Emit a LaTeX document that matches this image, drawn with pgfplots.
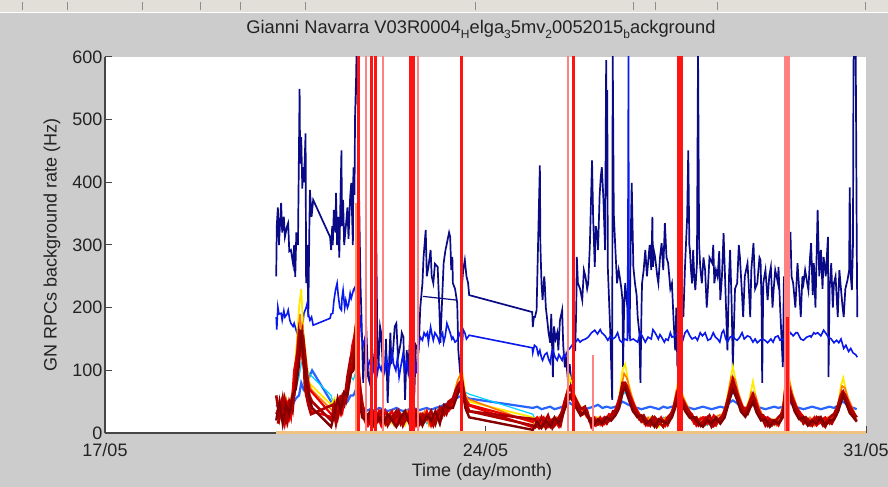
\documentclass[border=0pt]{standalone}
\usepackage{fontspec}
\setmainfont{Liberation Sans}
\usepackage{pgfplots}
\usepackage{pgfplotstable}
\pgfplotsset{compat=1.18}

\definecolor{figgray}{RGB}{204,204,204}
\definecolor{barbeige}{RGB}{226,223,216}
\definecolor{axgray}{RGB}{70,70,70}
\definecolor{txt}{RGB}{35,35,35}
\definecolor{navyline}{RGB}{10,10,135}
\definecolor{blueline}{RGB}{10,25,235}
\definecolor{jetlb}{RGB}{40,100,255}
\definecolor{jetcy}{RGB}{0,210,255}
\definecolor{jetye}{RGB}{255,235,0}
\definecolor{jetor}{RGB}{255,120,0}
\definecolor{jetrd}{RGB}{235,0,0}
\definecolor{jetdr}{RGB}{175,0,0}
\definecolor{jetdd}{RGB}{130,0,0}
\definecolor{spike}{RGB}{255,20,20}
\definecolor{spikelt}{RGB}{255,130,130}
\definecolor{spikeor}{RGB}{255,150,100}
\definecolor{zeroline}{RGB}{240,195,130}

\newcommand{\sub}[1]{\raisebox{-0.5ex}{\fontsize{12bp}{12bp}\selectfont #1}}
\newcommand{\lblfont}{\fontsize{18bp}{21bp}\selectfont}

% low-rate chambers: time (day of May) and rate (Hz)
\pgfplotstableread{
x lb cy ye rd dra drb
20.15 45 55 50 30 60 20
20.21 40 35 40 45 25 50
20.27 38 50 30 20 55 15
20.33 42 30 55 50 20 45
20.39 40 45 35 25 50 30
20.45 45 40 60 55 35 60
20.51 55 70 120 80 90 70
20.57 60 90 200 120 160 110
20.61 80 110 230 150 140 165
20.65 70 120 160 130 150 120
20.71 80 100 110 90 100 80
20.76 90 95 80 70 60 55
20.81 100 90 75 65 50 40
21.16 50 60 45 30 20 10
21.22 45 40 55 25 45 30
21.28 40 50 35 45 25 55
21.34 42 45 50 30 55 35
21.40 45 55 60 50 45 65
21.46 50 70 80 75 90 60
21.52 60 90 110 100 120 95
21.57 60 85 120 110 130 100
21.62 70 100 160 150 175 130
21.67 55 60 80 70 90 60
21.73 40 30 40 30 45 25
21.80 35 20 25 15 30 20
21.88 38 25 15 30 15 35
21.96 35 15 30 20 35 10
22.04 40 25 20 35 20 25
22.12 38 30 10 15 30 15
22.20 35 15 25 25 12 30
22.28 37 20 15 35 25 20
22.36 40 28 30 12 35 10
22.44 36 18 20 30 15 25
22.52 35 25 12 20 30 35
22.60 38 15 28 35 20 15
22.68 40 30 20 15 35 25
22.76 36 20 35 30 10 30
22.84 38 28 15 20 30 12
22.92 40 15 30 35 22 28
23.00 37 25 20 12 35 20
23.08 40 30 28 30 15 35
23.16 42 20 35 25 40 15
23.24 45 35 30 40 30 45
23.32 48 40 45 35 50 40
23.40 50 45 50 45 55 40
23.46 55 60 75 60 70 55
23.52 58 65 90 75 80 70
23.57 60 70 100 80 85 75
23.63 58 65 60 55 50 40
23.70 55 62 50 45 35 25
24.87 40 30 25 18 12 5
24.95 42 15 20 25 10 18
25.03 38 22 12 15 25 8
25.11 40 10 18 22 8 20
25.19 42 20 10 12 20 10
25.27 38 15 22 20 12 25
25.35 40 25 15 10 25 15
25.42 42 30 30 28 35 30
25.49 45 45 60 50 60 45
25.55 48 55 90 60 72 58
25.60 45 52 75 58 65 52
25.67 42 40 50 45 52 40
25.75 40 30 35 28 38 28
25.83 38 35 42 32 42 35
25.91 40 18 22 25 20 22
25.99 42 20 14 15 25 12
26.07 45 12 25 20 14 22
26.15 40 22 15 12 22 15
26.23 42 18 20 25 15 25
26.31 40 25 30 20 28 20
26.39 42 30 35 30 35 28
26.46 45 40 55 45 50 40
26.52 50 60 100 70 80 65
26.57 48 65 110 78 80 72
26.63 45 55 80 60 65 55
26.71 42 40 52 42 45 35
26.79 40 28 35 25 32 26
26.87 38 18 22 25 18 28
26.95 40 22 15 12 22 15
27.03 42 12 25 20 12 20
27.11 40 20 18 25 25 10
27.19 38 15 10 15 18 22
27.27 42 25 22 20 10 18
27.35 40 18 15 12 25 15
27.43 42 25 30 28 32 25
27.49 45 40 55 45 50 40
27.54 50 55 82 60 66 56
27.60 45 48 68 52 58 48
27.68 42 38 48 40 44 34
27.76 40 28 32 28 32 24
27.84 38 20 20 15 22 25
27.92 40 15 22 20 12 15
28.00 42 22 12 25 18 10
28.08 40 12 20 15 25 20
28.16 38 20 15 20 10 15
28.24 40 25 22 12 20 25
28.32 42 22 20 25 18 15
28.40 40 30 35 30 35 25
28.48 48 50 72 55 62 50
28.55 52 65 106 75 86 70
28.62 48 55 76 60 65 55
28.70 42 40 45 38 44 34
28.78 40 32 36 30 32 26
28.86 42 40 56 45 50 40
28.92 45 50 82 55 62 50
28.99 42 38 48 38 42 32
29.07 40 24 28 22 28 20
29.15 38 15 18 25 12 22
29.23 40 20 12 15 22 10
29.31 42 12 22 20 15 20
29.39 40 25 18 12 25 15
29.47 42 30 35 28 32 25
29.51 48 50 78 55 66 50
29.55 52 65 108 75 86 70
29.61 48 55 76 60 65 55
29.69 42 40 45 38 44 34
29.77 40 28 30 24 30 22
29.85 38 18 20 25 15 25
29.93 40 22 12 15 22 12
30.01 42 12 20 22 12 20
30.09 40 20 15 12 25 15
30.17 38 15 25 20 18 25
30.25 40 25 18 25 10 12
30.33 42 20 22 15 25 20
30.41 40 28 30 25 30 22
30.49 44 35 45 40 45 35
30.54 48 50 76 55 60 50
30.58 50 60 88 65 66 60
30.64 46 48 64 52 56 46
30.70 42 38 44 38 42 32
30.77 40 28 30 25 32 25
30.83 38 20 25 20 25 18
}\band

\pgfplotstableread{
x or drc drd
20.18 40 30 15
20.24 25 50 35
20.30 50 15 55
20.36 30 45 20
20.42 55 25 50
20.48 80 100 60
20.54 150 130 120
20.59 190 150 140
20.63 140 120 160
20.68 100 90 70
20.74 85 55 45
20.79 70 35 30
21.19 35 25 45
21.25 50 40 15
21.31 30 55 40
21.37 55 35 60
21.43 65 70 50
21.49 85 100 80
21.55 120 140 110
21.60 170 160 140
21.65 110 120 100
21.70 60 70 50
21.76 30 35 25
21.84 20 12 30
21.92 35 25 10
22.00 15 30 25
22.08 28 12 35
22.16 20 35 15
22.24 32 18 28
22.32 12 30 20
22.40 30 15 35
22.48 18 28 12
22.56 35 20 28
22.64 15 32 18
22.72 28 12 35
22.80 20 30 15
22.88 35 18 25
22.96 12 28 30
23.04 30 20 12
23.12 22 35 28
23.20 35 25 40
23.28 40 45 30
23.36 45 40 50
23.43 65 60 50
23.49 85 75 65
23.55 95 80 70
23.60 70 65 55
23.66 55 45 35
24.91 15 8 22
24.99 25 18 8
25.07 10 25 15
25.15 22 10 28
25.23 12 22 8
25.31 25 15 20
25.38 18 28 12
25.45 45 50 40
25.52 75 70 60
25.58 72 75 62
25.63 62 58 52
25.71 48 42 38
25.79 36 38 30
25.87 30 25 35
25.95 15 22 10
26.03 25 12 20
26.11 12 25 15
26.19 22 15 25
26.27 28 30 20
26.35 32 28 35
26.42 40 45 35
26.49 70 65 55
26.55 95 80 75
26.60 88 76 66
26.67 64 58 48
26.75 44 42 34
26.83 28 30 22
26.91 15 22 28
26.99 25 12 15
27.07 12 22 25
27.15 22 15 10
27.23 15 25 20
27.31 25 12 18
27.39 20 28 25
27.46 45 40 35
27.52 70 65 55
27.57 70 60 55
27.64 56 50 42
27.72 42 36 32
27.80 28 30 22
27.88 18 12 25
27.96 25 22 12
28.04 12 25 20
28.12 22 15 28
28.20 15 28 12
28.28 28 20 22
28.36 30 28 25
28.44 50 45 40
28.52 90 75 65
28.59 86 75 65
28.66 62 56 46
28.74 42 40 32
28.82 36 40 30
28.89 65 55 45
28.96 62 55 45
29.03 42 36 30
29.11 25 20 28
29.19 15 25 12
29.27 22 12 20
29.35 12 22 15
29.43 25 28 20
29.49 55 45 40
29.53 90 75 65
29.58 86 75 65
29.65 62 56 46
29.73 42 40 32
29.81 26 30 20
29.89 15 22 25
29.97 25 12 15
30.05 12 25 20
30.13 22 15 25
30.21 15 22 12
30.29 25 18 20
30.37 22 28 15
30.45 35 32 28
30.52 60 55 45
30.56 75 65 55
30.61 72 62 56
30.67 56 50 42
30.74 42 38 32
30.80 30 28 22
}\bandb

\begin{document}
\begin{tikzpicture}
% figure window
\fill[figgray] (-105bp,-54bp) rectangle (783bp,433bp);
\fill[barbeige] (-105bp,421bp) rectangle (783bp,433bp);
\draw[white, line width=1.2bp] (-105bp,420.4bp) -- (783bp,420.4bp);
\foreach \sx in {22,67,142,200,240,305,475,633,655,717,865}
  \draw[black!45, line width=0.8bp] (\sx bp-105bp,423bp) -- (\sx bp-105bp,431bp);

\begin{axis}[
  at={(0,0)}, anchor=south west,
  scale only axis, width=761bp, height=376bp,
  xmin=17, xmax=31, ymin=0, ymax=600,
  xtick={17,24,31}, xticklabels={17/05,24/05,31/05},
  ytick={0,100,...,600},
  axis x line*=bottom, axis y line*=left,
  axis line style={-, draw=axgray, line width=1.3bp},
  tick align=inside, major tick length=7bp,
  every tick/.style={draw=axgray, line width=1bp},
  axis background/.style={fill=white},
  /pgf/number format/assume math mode=true,
  ticklabel style={font=\lblfont, text=txt},
  yticklabel style={xshift=1bp},
  xticklabel style={yshift=-7bp},
  title={Gianni Navarra V03R0004\sub{H}elga\sub{3}5mv\sub{2}0052015\sub{b}ackground},
  every axis title/.style={at={(axis description cs:0.494,1)}, anchor=base, yshift=23bp, font=\fontsize{18.3bp}{21bp}\selectfont, text=txt},
  xlabel={Time (day/month)},
  every axis x label/.style={at={(axis description cs:0.4954,-0.1037)}, anchor=center, font=\lblfont, text=txt},
  ylabel={GN RPCs background rate (Hz)},
  every axis y label/.style={at={(axis description cs:-0.0696,0.5)}, rotate=90, anchor=center, font=\lblfont, text=txt},
]

% high-rate chamber
\addplot[navyline, line width=1.7bp] coordinates {
(20.15,250) (20.16,330) (20.18,360) (20.20,300) (20.24,367) (20.26,320) (20.29,345) (20.31,313)
(20.35,330) (20.37,335) (20.39,290) (20.42,292) (20.46,270) (20.48,300) (20.50,249) (20.52,320)
(20.55,300) (20.58,549) (20.59,430) (20.61,472) (20.63,390) (20.64,424) (20.66,400) (20.69,478)
(20.70,239) (20.72,300) (20.74,185) (20.76,330) (20.77,388) (20.80,345) (20.83,372)
(21.14,313) (21.16,292) (21.18,330) (21.19,300) (21.21,356) (21.24,320) (21.25,383) (21.27,300)
(21.29,345) (21.31,280) (21.35,451) (21.36,330) (21.38,372) (21.40,300) (21.43,329) (21.46,360)
(21.48,310) (21.51,376) (21.53,399) (21.56,300) (21.57,424) (21.59,380) (21.60,504) (21.62,568)
(21.63,620) (21.64,600) (21.67,400) (21.70,239) (21.72,180) (21.75,80) (21.78,150) (21.81,160)
(21.84,90) (21.87,80) (21.91,140) (21.94,100) (21.97,132) (21.98,388) (22.01,150) (22.03,105)
(22.06,170) (22.08,160) (22.12,90) (22.15,105) (22.17,150) (22.20,48) (22.23,120) (22.25,160)
(22.27,110) (22.30,132) (22.33,170) (22.36,175) (22.39,120) (22.44,144) (22.46,160) (22.49,153)
(22.52,53) (22.55,132) (22.58,105) (22.61,150) (22.66,80) (22.69,60) (22.72,140) (22.77,132)
(22.80,200) (22.84,239) (22.86,280) (22.90,324) (22.92,250) (22.95,265) (22.99,292) (23.01,250)
(23.04,239) (23.07,270) (23.12,265) (23.15,200) (23.17,144) (23.21,230) (23.23,271) (23.26,290)
(23.29,303) (23.33,320) (23.35,313) (23.37,260) (23.39,281) (23.40,239) (23.44,230) (23.48,207)
(23.50,132) (23.54,89) (23.56,150) (23.57,239) (23.59,260) (23.62,276) (23.65,250) (23.68,239)
(23.70,220)
(24.86,193) (24.87,169) (24.89,185) (24.91,185) (24.94,196) (24.97,313) (25.00,427) (25.01,300)
(25.03,239) (25.05,212) (25.08,250) (25.09,239) (25.11,200) (25.13,185) (25.16,160) (25.19,144)
(25.21,190) (25.24,89) (25.26,170) (25.29,150) (25.32,160) (25.34,132) (25.37,180) (25.41,196)
(25.43,140) (25.46,105) (25.48,120) (25.52,80) (25.55,110) (25.59,53) (25.62,132) (25.65,132)
(25.67,200) (25.68,281) (25.70,239) (25.74,230) (25.78,212) (25.81,260) (25.84,249) (25.87,230)
(25.89,239) (25.92,300) (25.96,435) (25.98,345) (26.01,265) (26.03,330) (26.06,313) (26.07,292)
(26.10,380) (26.12,408) (26.14,424) (26.17,372) (26.20,292) (26.22,595) (26.23,400) (26.24,547)
(26.25,265) (26.30,150) (26.33,53) (26.34,610) (26.36,350) (26.39,292) (26.42,239) (26.45,260)
(26.47,249) (26.50,230) (26.52,212) (26.53,105) (26.55,200) (26.57,239) (26.61,200) (26.65,150)
(26.67,300) (26.69,399) (26.72,265) (26.75,239) (26.78,220) (26.80,185) (26.83,160) (26.85,80)
(26.87,200) (26.88,239) (26.91,260) (26.94,292) (26.97,250) (26.99,271) (27.02,300) (27.05,260)
(27.07,345) (27.08,265) (27.10,290) (27.12,281) (27.16,250) (27.18,239) (27.21,280) (27.24,303)
(27.27,260) (27.30,335) (27.33,280) (27.36,271) (27.40,230) (27.43,239) (27.46,180) (27.49,132)
(27.51,200) (27.53,105) (27.55,292) (27.57,250) (27.61,230) (27.64,185) (27.67,265) (27.71,345)
(27.73,451) (27.75,300) (27.76,292) (27.78,260) (27.80,239) (27.82,292) (27.84,250) (27.86,228)
(27.89,270) (27.91,610) (27.93,300) (27.95,265) (27.98,239) (28.01,280) (28.04,260) (28.07,200)
(28.09,228) (28.12,280) (28.17,271) (28.19,300) (28.21,239) (28.24,260) (28.27,249) (28.30,290)
(28.32,212) (28.35,250) (28.38,319) (28.41,240) (28.45,132) (28.48,250) (28.50,292) (28.53,200)
(28.55,105) (28.59,230) (28.63,239) (28.66,300) (28.68,281) (28.72,220) (28.74,185) (28.77,250)
(28.82,271) (28.84,240) (28.87,185) (28.89,260) (28.93,303) (28.96,230) (29.00,239) (29.04,280)
(29.06,276) (29.08,200) (29.09,80) (29.11,239) (29.15,260) (29.19,212) (29.22,250) (29.25,265)
(29.28,200) (29.30,228) (29.33,260) (29.38,239) (29.39,265) (29.42,200) (29.47,105) (29.49,250)
(29.52,185) (29.54,280) (29.56,240) (29.61,321) (29.63,250) (29.66,239) (29.70,200) (29.74,271)
(29.77,230) (29.80,185) (29.83,250) (29.85,239) (29.88,260) (29.94,228) (29.97,280) (29.99,303)
(30.02,220) (30.04,271) (30.07,200) (30.11,356) (30.14,250) (30.17,292) (30.20,230) (30.22,281)
(30.26,250) (30.30,313) (30.31,89) (30.33,230) (30.36,271) (30.39,200) (30.41,239) (30.44,250)
(30.48,185) (30.51,260) (30.53,239) (30.57,200) (30.59,185) (30.62,230) (30.66,244) (30.69,260)
(30.70,392) (30.72,250) (30.74,228) (30.76,300) (30.77,595) (30.81,620) (30.83,300) (30.84,185)
};
\addplot[navyline, line width=1.2bp] coordinates {(22.85,218) (23.48,212)};

% medium-rate chamber
\addplot[blueline, line width=1.6bp] coordinates {
(20.15,185) (20.16,165) (20.18,201) (20.20,190) (20.24,191) (20.26,180) (20.29,195) (20.31,185)
(20.35,190) (20.37,196) (20.40,180) (20.42,175) (20.46,170) (20.48,175) (20.50,169) (20.53,160)
(20.55,164) (20.59,150) (20.61,153) (20.64,175) (20.66,191) (20.70,200) (20.72,207) (20.74,190)
(20.77,180) (20.80,185) (20.83,172)
(21.14,183) (21.16,190) (21.19,191) (21.21,210) (21.24,228) (21.27,239) (21.29,220) (21.32,200)
(21.35,196) (21.36,215) (21.38,228) (21.41,200) (21.43,212) (21.46,200) (21.48,205) (21.51,223)
(21.53,215) (21.57,228) (21.60,233) (21.62,217) (21.64,210) (21.68,190) (21.70,185) (21.72,153)
(21.75,140) (21.79,153) (21.81,120) (21.84,105) (21.87,115) (21.91,110) (21.94,100) (21.97,120)
(22.01,95) (22.04,110) (22.08,100) (22.12,115) (22.15,100) (22.18,120) (22.22,95) (22.25,112)
(22.28,130) (22.31,110) (22.35,100) (22.38,120) (22.41,89) (22.45,110) (22.48,125) (22.51,100)
(22.55,115) (22.58,95) (22.61,110) (22.66,105) (22.69,120) (22.72,95) (22.77,140) (22.80,153)
(22.84,148) (22.87,160) (22.90,155) (22.93,160) (22.95,145) (22.99,169) (23.02,155) (23.04,148)
(23.07,160) (23.12,153) (23.15,145) (23.17,153) (23.21,160) (23.23,144) (23.26,155) (23.29,175)
(23.33,165) (23.35,160) (23.38,150) (23.40,153) (23.44,145) (23.48,148) (23.51,160) (23.54,153)
(23.57,140) (23.59,165) (23.62,160) (23.65,150) (23.70,156)
(24.86,136) (24.87,128) (24.90,140) (24.94,137) (24.97,125) (25.00,132) (25.03,120) (25.05,116)
(25.09,125) (25.13,128) (25.16,118) (25.19,112) (25.22,130) (25.24,132) (25.28,121) (25.32,116)
(25.35,125) (25.41,116) (25.44,125) (25.46,121) (25.52,132) (25.55,135) (25.59,140) (25.65,144)
(25.70,150) (25.74,145) (25.78,148) (25.84,150) (25.89,153) (25.95,160) (26.01,164) (26.06,158)
(26.11,165) (26.14,160) (26.20,155) (26.25,148) (26.30,155) (26.34,150) (26.39,153) (26.43,160)
(26.47,148) (26.52,144) (26.56,150) (26.61,148) (26.62,300) (26.63,610) (26.64,200) (26.66,148)
(26.72,150) (26.75,148) (26.80,145) (26.85,160) (26.88,155) (26.94,145) (26.99,153) (27.05,150)
(27.08,165) (27.12,160) (27.18,150) (27.21,157) (27.24,153) (27.29,145) (27.32,150) (27.36,148)
(27.40,160) (27.43,153) (27.49,155) (27.53,160) (27.57,150) (27.62,145) (27.67,160) (27.71,164)
(27.76,155) (27.80,150) (27.86,153) (27.90,148) (27.95,160) (27.99,155) (28.04,160) (28.09,148)
(28.14,150) (28.19,160) (28.23,153) (28.27,150) (28.31,145) (28.35,160) (28.38,164) (28.42,150)
(28.45,145) (28.50,153) (28.55,155) (28.59,150) (28.63,148) (28.67,152) (28.72,160) (28.76,150)
(28.82,155) (28.87,153) (28.92,145) (28.96,150) (29.00,144) (29.05,148) (29.09,150) (29.14,148)
(29.19,144) (29.25,150) (29.29,145) (29.33,153) (29.38,155) (29.42,148) (29.47,150) (29.51,148)
(29.55,152) (29.61,160) (29.66,155) (29.71,160) (29.74,160) (29.80,150) (29.85,148) (29.91,153)
(29.97,155) (29.99,153) (30.04,160) (30.07,158) (30.11,160) (30.17,155) (30.22,164) (30.27,158)
(30.31,153) (30.36,150) (30.41,144) (30.46,148) (30.50,144) (30.54,150) (30.59,135) (30.63,140)
(30.68,130) (30.72,135) (30.76,128) (30.81,125) (30.84,121)
};

% low-rate chambers
\addplot[jetlb, line width=2.2bp] table[x=x, y=lb] {\band};
\addplot[jetcy, line width=1.2bp] table[x=x, y=cy] {\band};
\addplot[jetye, line width=1.8bp] table[x=x, y=ye] {\band};
\addplot[jetor, line width=1.6bp] table[x=x, y=or] {\bandb};
\addplot[jetrd, line width=2.2bp] table[x=x, y=rd] {\band};
\addplot[jetrd, line width=2.2bp] table[x=x, y=drc] {\bandb};
\addplot[jetdr, line width=2.6bp] table[x=x, y=dra] {\band};
\addplot[jetdr, line width=2.6bp] table[x=x, y=drd] {\bandb};
\addplot[jetdd, line width=2.4bp] table[x=x, y=drb] {\band};

% isolated bursts
\addplot[ycomb, spikelt, line width=2bp] coordinates {(21.81,650) (22.11,650) (22.76,650) (25.51,650) (25.98,125)};
\addplot[ycomb, spikelt, line width=6bp] coordinates {(29.55,650)};
\addplot[ycomb, spikeor, line width=2bp] coordinates {(21.62,367)};
\addplot[ycomb, spike, line width=3bp] coordinates {(21.66,650) (21.90,650) (21.97,650) (22.62,650) (22.68,650) (23.56,650) (25.61,650) (27.55,650) (27.61,650) (29.55,185)};

% zero-rate chamber
\addplot[zeroline, line width=2.5bp] coordinates {(20.15,1) (31,1)};
\end{axis}
\pgfresetboundingbox
\useasboundingbox (-105bp,-54bp) rectangle (783bp,433bp);
\end{tikzpicture}
\end{document}
